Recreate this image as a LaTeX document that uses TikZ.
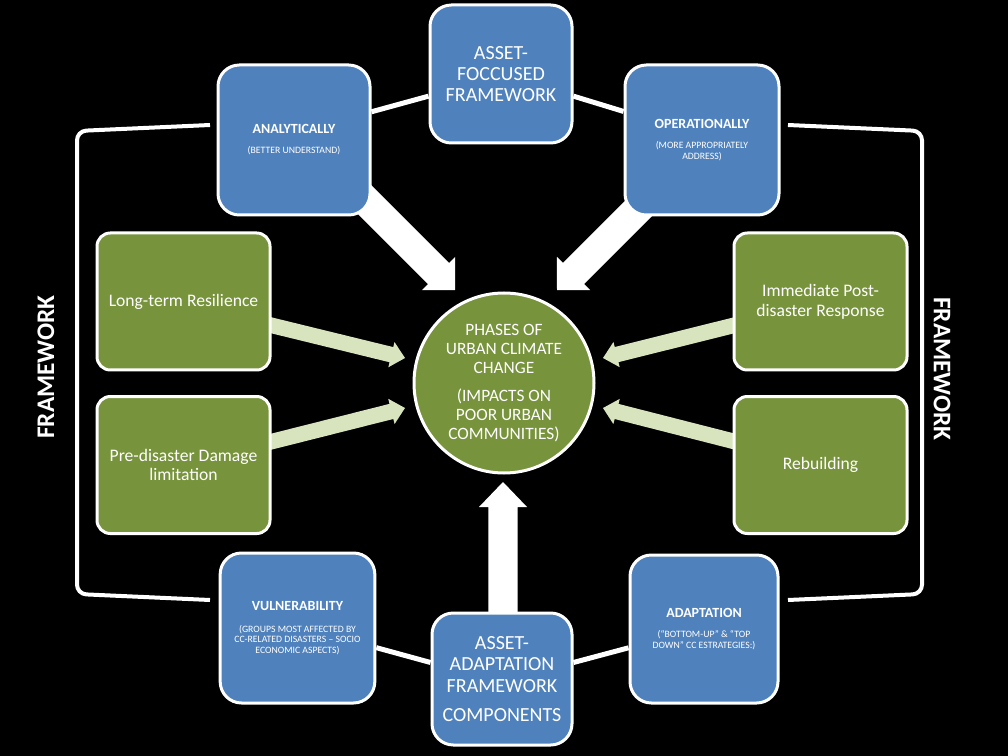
\documentclass[tikz,border=0pt]{standalone}
\usepackage{fontspec}
\setmainfont{Carlito}
\usetikzlibrary{calc}
\pgfdeclarelayer{bg}
\pgfsetlayers{bg,main}
\definecolor{boxblue}{HTML}{4F81BD}
\definecolor{boxgreen}{HTML}{77933C}
\definecolor{arrgreen}{HTML}{D7E4BD}
\newcommand{\ttlfont}{\fontsize{10.5}{12}\selectfont\bfseries}
% #1 colour, #2 start, #3 tip, #4 half shaft, #5 half head, #6 head length
\newcommand{\blockarrow}[6]{%
  \coordinate (ba-h) at ($(#3)!#6!(#2)$);
  \fill[#1] ($(#2)!#4!90:(#3)$) -- ($(ba-h)!#4!90:(#3)$) -- ($(ba-h)!#5!90:(#3)$) -- (#3)
    -- ($(ba-h)!#5!-90:(#3)$) -- ($(ba-h)!#4!-90:(#3)$) -- ($(#2)!#4!-90:(#3)$) -- cycle;}
\begin{document}
\begin{tikzpicture}[x=0.75pt,y=-0.75pt,
  bluebox/.style={draw=white,line width=2.25pt,fill=boxblue,rounded corners=16pt,inner sep=0pt,align=center,text=white},
  greenbox/.style={draw=white,line width=2.25pt,fill=boxgreen,rounded corners=10pt,inner sep=0pt,align=center,text=white,font=\fontsize{13.2}{14.8}\selectfont,minimum width=129.75pt,minimum height=102.75pt},
  hub/.style={circle,draw=white,line width=2.25pt,fill=boxgreen,inner sep=0pt,minimum size=135pt,align=center,text=white,font=\fontsize{13}{14.25}\selectfont},
  link/.style={white,line width=3.75pt},
  bracket/.style={white,line width=3pt,rounded corners=7pt},
  sidelabel/.style={text=white,font=\fontsize{19}{21}\selectfont\bfseries},
  bigtext/.style={font=\fontsize{15}{16}\selectfont},
  smalltext/.style={font=\fontsize{7.3}{8}\selectfont}]
\useasboundingbox (0,0) rectangle (1008,756);

% blue boxes
\node[bluebox,bigtext,minimum width=106.5pt,minimum height=103.5pt] (top) at (501,74) {ASSET-\\FOCCUSED\\FRAMEWORK};
\node[bluebox,smalltext,minimum width=114pt,minimum height=112.5pt] (ana) at (294,140) {{\ttlfont ANALYTICALLY}\\[7pt](BETTER UNDERSTAND)};
\node[bluebox,smalltext,minimum width=115.5pt,minimum height=112.5pt] (ope) at (702,140) {{\ttlfont OPERATIONALLY}\\[7pt](MORE APPROPRIATELY\\ADDRESS)};
\node[bluebox,smalltext,minimum width=116pt,minimum height=112.5pt] (vul) at (297.5,628) {{\ttlfont VULNERABILITY}\\[8.5pt](GROUPS MOST AFFECTED BY\\CC-RELATED DISASTERS – SOCIO\\ECONOMIC ASPECTS)};
\node[bluebox,bigtext,minimum width=105pt,minimum height=99pt] (bot) at (502,679) {ASSET-\\ADAPTATION\\FRAMEWORK\\[6pt]COMPONENTS};
\node[bluebox,smalltext,minimum width=111pt,minimum height=111pt] (ada) at (704,629) {{\ttlfont ADAPTATION}\\[7pt](“BOTTOM-UP” \& “TOP\\DOWN” CC ESTRATEGIES:)};

% green boxes
\node[greenbox] (ltr) at (183.5,301.5) {Long-term Resilience};
\node[greenbox] (pdl) at (183.5,465) {Pre-disaster Damage\\limitation};
\node[greenbox] (ipr) at (820.5,301.5) {Immediate Post-\\disaster Response};
\node[greenbox] (reb) at (820.5,465) {Rebuilding};

% hub
\node[hub] (hub) at (504,383) {PHASES OF\\URBAN CLIMATE\\CHANGE\\[6.75pt](IMPACTS ON\\POOR URBAN\\COMMUNITIES)};

% side labels
\node[sidelabel,rotate=90] (fl) at (46,367) {FRAMEWORK};
\node[sidelabel,rotate=-90] (fr) at (942,369) {FRAMEWORK};

% arrow coordinates
\coordinate (sa) at (340,175);  \coordinate (ta) at (455,290);
\coordinate (sb) at (672,175);  \coordinate (tb) at (557,290);
\coordinate (sc) at (503,640);  \coordinate (tc) at (503,482);
\coordinate (sg1) at (255,321.3); \coordinate (tg1) at (405,358);
\coordinate (sg2) at (255,445.8); \coordinate (tg2) at (405,408);
\coordinate (sg3) at (750,321.3); \coordinate (tg3) at (603,358);
\coordinate (sg4) at (750,445.5); \coordinate (tg4) at (603,408);

\begin{pgfonlayer}{bg}
  \fill[black] (0,0) rectangle (1008,756);
  % brackets
  \draw[bracket] (210,125) -- (77,131) -- (77,594) -- (210,600);
  \draw[bracket] (788,125) -- (922,131) -- (922,594) -- (788,600);
  % links
  \draw[link] (ana.20) -- (top.197);
  \draw[link] (top.-17) -- (ope.160.5);
  \draw[link] (vul.-14.5) -- (bot.167);
  \draw[link] (bot.13) -- (ada.194.4);
  % block arrows
  \blockarrow{white}{sa}{ta}{11.25pt}{17.6pt}{17.5pt}
  \blockarrow{white}{sb}{tb}{11.25pt}{17.6pt}{17.5pt}
  \blockarrow{white}{sc}{tc}{11pt}{18pt}{18.75pt}
  \blockarrow{arrgreen}{sg1}{tg1}{5.85pt}{9.75pt}{10.5pt}
  \blockarrow{arrgreen}{sg2}{tg2}{5.85pt}{9.75pt}{10.5pt}
  \blockarrow{arrgreen}{sg3}{tg3}{5.85pt}{9.75pt}{10.5pt}
  \blockarrow{arrgreen}{sg4}{tg4}{5.85pt}{9.75pt}{10.5pt}
\end{pgfonlayer}
\end{tikzpicture}
\end{document}
